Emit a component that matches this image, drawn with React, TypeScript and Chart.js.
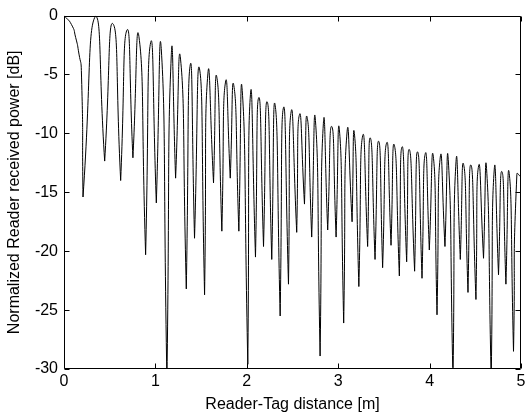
import React, { useEffect, useRef } from 'react';
import { Chart, registerables } from 'chart.js';

Chart.register(...registerables);

const FONT = "'Liberation Sans', Arial, Helvetica, sans-serif";

// Lobe maxima: distance [m] and level [dB]
const peakDistance = [
  0, 0.343, 0.536, 0.689, 0.82, 0.948, 1.064, 1.174, 1.275, 1.381, 1.483,
  1.574, 1.672, 1.767, 1.858, 1.95, 2.04, 2.131, 2.223, 2.31, 2.401, 2.485,
  2.576, 2.66, 2.751, 2.838, 2.929, 3.013, 3.097, 3.177, 3.268, 3.352, 3.443,
  3.53, 3.614, 3.698, 3.778, 3.869, 3.953, 4.04, 4.117, 4.204, 4.289, 4.372,
  4.452, 4.536, 4.623, 4.707, 4.791, 4.871, 4.955,
];
const peakPowerDb = [
  0, -0.06, -0.7, -1.23, -1.79, -2.29, -2.79, -3.33, -3.69, -4.19, -4.53,
  -4.95, -5.22, -5.64, -5.93, -6.35, -6.68, -6.96, -7.32, -7.6, -7.82, -8.16,
  -8.41, -8.63, -8.91, -9.14, -9.41, -9.7, -9.88, -10.0, -10.2, -10.39, -10.67,
  -10.81, -11.0, -11.15, -11.37, -11.57, -11.71, -11.93, -12.01, -12.21,
  -12.41, -12.63, -12.68, -12.77, -12.97, -13.1, -13.24, -13.39, -13.47,
];

// Nulls
const nullDistance = [
  0.208, 0.445, 0.62, 0.754, 0.893, 1.01, 1.126, 1.221, 1.338, 1.428, 1.538,
  1.636, 1.727, 1.819, 1.913, 2.011, 2.095, 2.183, 2.273, 2.365, 2.456, 2.546,
  2.631, 2.71, 2.802, 2.885, 2.977, 3.06, 3.152, 3.226, 3.322, 3.403, 3.486,
  3.578, 3.669, 3.749, 3.836, 3.917, 3.997, 4.081, 4.168, 4.256, 4.336, 4.42,
  4.507, 4.59, 4.674, 4.754, 4.835, 4.918,
];
const nullPowerDb = [
  -15.4, -12.35, -14.0, -12.07, -20.3, -15.9, -31, -13.8, -23.2, -18.9, -23.7,
  -14.2, -18.3, -13.8, -18.3, -29.6, -20.5, -19.6, -20.7, -25.5, -22.8, -18.4,
  -16.0, -18.8, -28.9, -18.2, -18.8, -26.1, -17.5, -23.0, -19.6, -20.7, -21.4,
  -19.5, -22.1, -20.9, -21.7, -22.3, -19.9, -25.4, -19.6, -31, -20.7, -23.5,
  -24.1, -20.6, -31, -22.0, -22.8, -28.5,
];

// Shape of the first (wide) lobe
const leadInDistance = [0.081, 0.128, 0.164, 0.19];
const leadInPowerDb = [-0.75, -1.87, -3.27, -4.67];

const endDistance = 5;
const endPowerDb = -13.7;

const xTickValues = [0, 1, 2, 3, 4, 5];
const yTickValues = [0, -5, -10, -15, -20, -25, -30];
const xAxisTitle = 'Reader-Tag distance [m]';
const yAxisTitle = 'Normalized Reader received power [dB]';

function buildSeries() {
  const pts: { x: number; y: number }[] = [{ x: peakDistance[0], y: peakPowerDb[0] }];
  leadInDistance.forEach((d, i) => pts.push({ x: d, y: leadInPowerDb[i] }));
  for (let i = 0; i < nullDistance.length; i++) {
    // null repeated so the spline forms a sharp notch there
    pts.push({ x: nullDistance[i], y: nullPowerDb[i] });
    pts.push({ x: nullDistance[i], y: nullPowerDb[i] });
    pts.push({ x: peakDistance[i + 1], y: peakPowerDb[i + 1] });
  }
  pts.push({ x: endDistance, y: endPowerDb });
  return pts;
}

const framePlugin = {
  id: 'matlabFrame',
  afterDatasetsDraw(chart: any) {
    const { ctx, chartArea } = chart;
    const xs = chart.scales.x;
    const ys = chart.scales.y;
    const L = Math.round(chartArea.left) + 0.5;
    const R = Math.round(chartArea.right) - 0.5;
    const T = Math.round(chartArea.top) + 0.5;
    const B = Math.round(chartArea.bottom) - 0.5;
    const len = 5;
    ctx.save();
    ctx.strokeStyle = '#000';
    ctx.lineWidth = 1;
    ctx.beginPath();
    ctx.rect(L, T, R - L, B - T);
    xTickValues.forEach((v) => {
      const px = Math.round(xs.getPixelForValue(v)) + 0.5;
      ctx.moveTo(px, B);
      ctx.lineTo(px, B - len);
      ctx.moveTo(px, T);
      ctx.lineTo(px, T + len);
    });
    yTickValues.forEach((v) => {
      const py = Math.round(ys.getPixelForValue(v)) + 0.5;
      ctx.moveTo(L, py);
      ctx.lineTo(L + len, py);
      ctx.moveTo(R, py);
      ctx.lineTo(R - len, py);
    });
    ctx.stroke();
    ctx.restore();
  },
};

export default function App() {
  const canvasRef = useRef<HTMLCanvasElement | null>(null);

  useEffect(() => {
    document.body.style.margin = '0';
    const canvas = canvasRef.current;
    if (!canvas) return;
    const chart = new Chart(canvas, {
      type: 'line',
      data: {
        datasets: [
          {
            data: buildSeries(),
            borderColor: '#000',
            borderWidth: 1,
            pointRadius: 0,
            tension: 0.65,
            fill: false,
          },
        ],
      },
      options: {
        responsive: false,
        animation: false,
        devicePixelRatio: 1,
        layout: { padding: { left: 0, top: 11, right: 9, bottom: 0 } },
        plugins: { legend: { display: false }, tooltip: { enabled: false } },
        scales: {
          x: {
            type: 'linear',
            min: 0,
            max: 5,
            afterFit: (s: any) => {
              s.height = 43;
            },
            afterBuildTicks: (s: any) => {
              s.ticks = xTickValues.map((v) => ({ value: v }));
            },
            ticks: {
              color: '#000',
              font: { family: FONT, size: 16 },
              padding: 3,
              maxRotation: 0,
              autoSkip: false,
            },
            grid: { display: false, drawTicks: false },
            border: { display: false },
            title: {
              display: true,
              text: xAxisTitle,
              color: '#000',
              font: { family: FONT, size: 16, lineHeight: 0.875 },
              padding: 0,
            },
          },
          y: {
            type: 'linear',
            min: -30,
            max: 0,
            afterFit: (s: any) => {
              s.width = 64;
            },
            afterBuildTicks: (s: any) => {
              s.ticks = yTickValues.map((v) => ({ value: v }));
            },
            ticks: {
              color: '#000',
              font: { family: FONT, size: 16 },
              padding: 6,
              autoSkip: false,
            },
            grid: { display: false, drawTicks: false },
            border: { display: false },
            title: {
              display: true,
              text: yAxisTitle,
              color: '#000',
              font: { family: FONT, size: 16, lineHeight: 0.875 },
              padding: { top: 8, bottom: 0 },
            },
          },
        },
      },
      plugins: [framePlugin],
    });
    return () => chart.destroy();
  }, []);

  return (
    <div style={{ position: 'fixed', left: 0, top: 0, width: 530, height: 412, background: '#fff' }}>
      <canvas ref={canvasRef} width={530} height={412} />
    </div>
  );
}
